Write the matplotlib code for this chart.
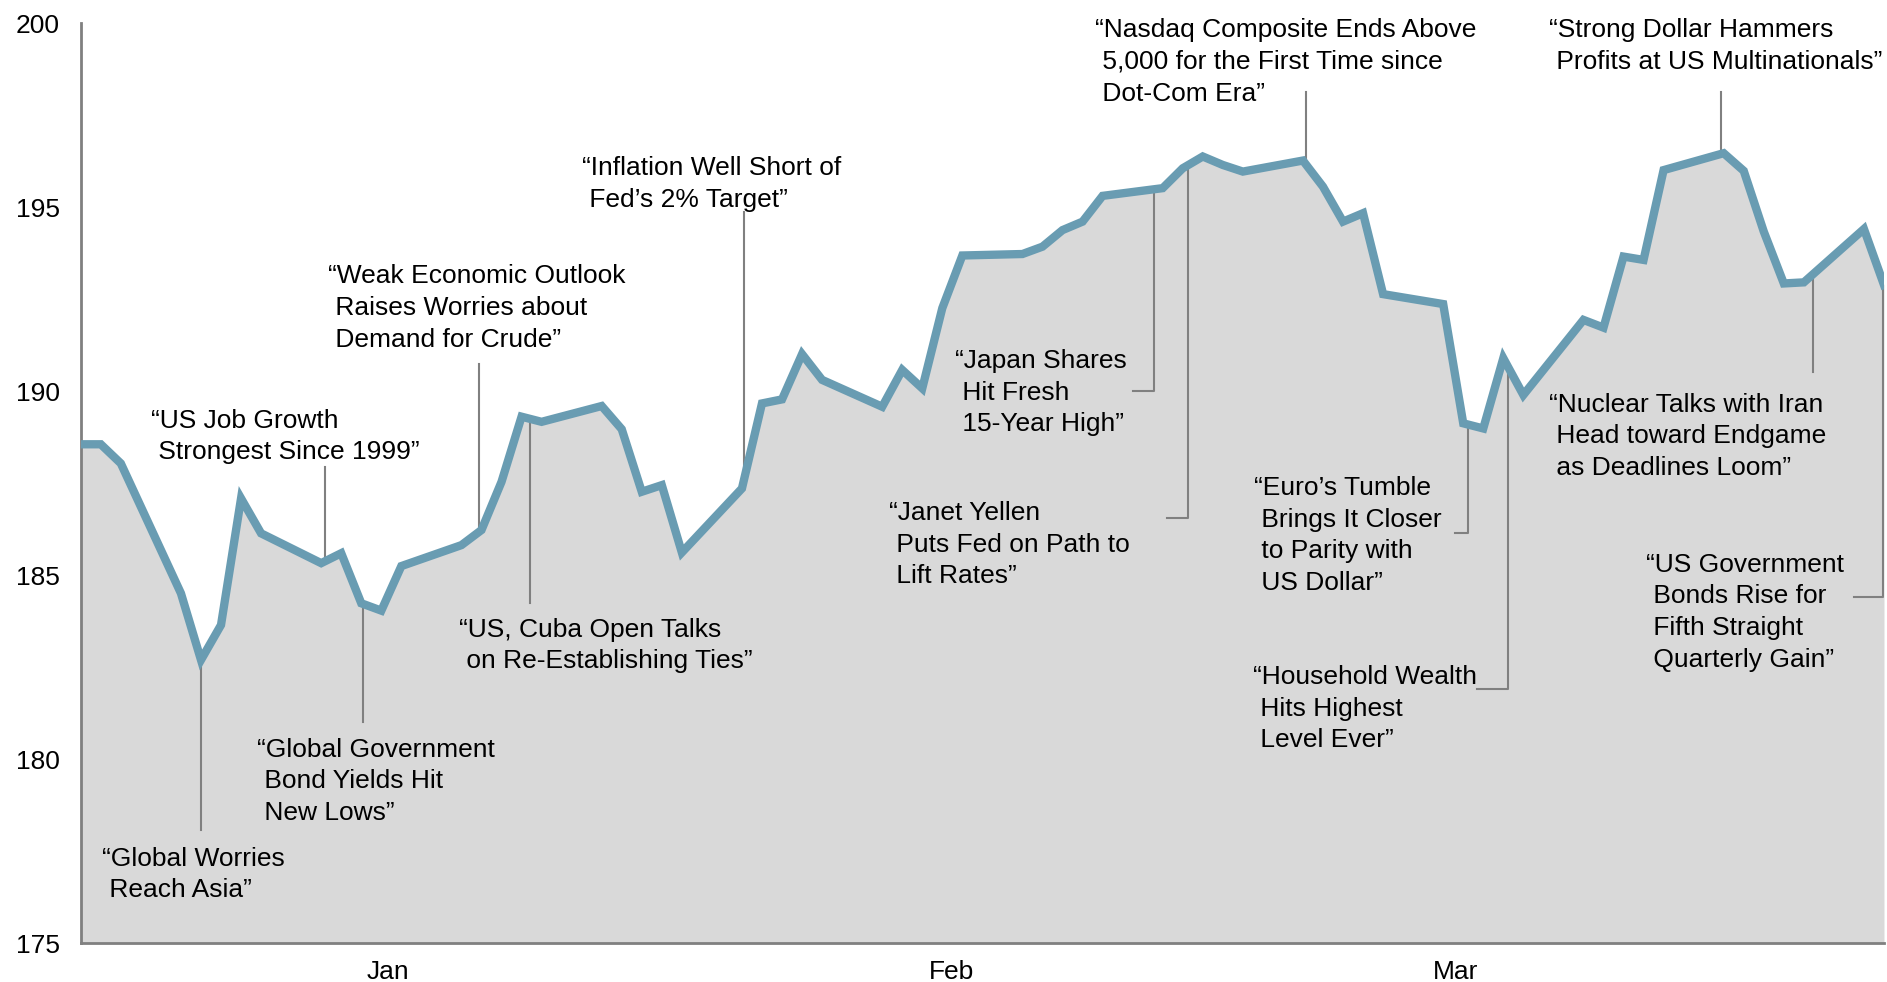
import numpy as np
import pandas as pd
import matplotlib
matplotlib.use("Agg")
import matplotlib.pyplot as plt

plt.rcParams['font.family'] = ['Liberation Sans', 'DejaVu Sans']

# weekdays from the last close of 2014 to the end of Q1 2015
dates = pd.bdate_range("2014-12-31", "2015-03-31")
values = [
    188.56,
    188.56, 188.04, 184.51, 182.70, 183.65, 187.09, 186.14, 185.33, 185.60, 184.24,
    184.04, 185.25, 185.82, 186.23, 187.54, 189.31, 189.17, 189.60, 188.97, 187.27,
    187.45, 185.62,
    187.36, 189.67, 189.78, 191.01, 190.31, 189.58, 190.58, 190.08, 192.26, 193.69,
    193.73, 193.93, 194.38, 194.61, 195.31, 195.52, 196.06, 196.38, 196.15, 195.97,
    196.27, 195.56, 194.61, 194.84, 192.64, 192.37, 189.13, 188.99, 190.90, 189.90,
    191.94, 191.73, 193.66, 193.57, 196.01, 196.47, 195.99, 194.34, 192.93, 192.96,
    194.41, 192.89,
]

tick_dates = pd.to_datetime(["2015-01-15 08:24", "2015-02-12 11:17", "2015-03-09 15:07"])
tick_labels = ["Jan", "Feb", "Mar"]

# headlines and the day each one points at
headlines = [
    "\u201cGlobal Worries\n Reach Asia\u201d",
    "\u201cUS Job Growth\n Strongest Since 1999\u201d",
    "\u201cGlobal Government\n Bond Yields Hit\n New Lows\u201d",
    "\u201cWeak Economic Outlook\n Raises Worries about\n Demand for Crude\u201d",
    "\u201cUS, Cuba Open Talks\n on Re-Establishing Ties\u201d",
    "\u201cInflation Well Short of\n Fed\u2019s 2% Target\u201d",
    "\u201cJapan Shares\n Hit Fresh\n 15-Year High\u201d",
    "\u201cJanet Yellen\n Puts Fed on Path to\n Lift Rates\u201d",
    "\u201cNasdaq Composite Ends Above\n 5,000 for the First Time since\n Dot-Com Era\u201d",
    "\u201cEuro\u2019s Tumble\n Brings It Closer\n to Parity with\n US Dollar\u201d",
    "\u201cHousehold Wealth\n Hits Highest\n Level Ever\u201d",
    "\u201cStrong Dollar Hammers\n Profits at US Multinationals\u201d",
    "\u201cNuclear Talks with Iran\n Head toward Endgame\n as Deadlines Loom\u201d",
    "\u201cUS Government\n Bonds Rise for\n Fifth Straight\n Quarterly Gain\u201d",
]
headline_dates = pd.to_datetime([
    "2015-01-06 00:00", "2015-01-12 05:00", "2015-01-14 02:00", "2015-01-19 21:00",
    "2015-01-22 10:00", "2015-02-02 03:00", "2015-02-22 14:00", "2015-02-24 06:00",
    "2015-03-02 04:00", "2015-03-10 06:00", "2015-03-12 05:30", "2015-03-22 21:00",
    "2015-03-27 11:00", "2015-03-30 23:00",
])

# layout of the leaders and labels
leader_ends = [178.08, 187.95, 181.02, 190.74, 184.24, 194.88, 190.02, 186.57,
               198.14, 186.16, 181.90, 198.14, 190.53, 184.42]
elbow_dates = [None, None, None, None, None, None, "2015-02-21 12:00", "2015-02-23 05:00",
               None, "2015-03-09 14:00", "2015-03-10 16:00", None, None, "2015-03-29 12:00"]
label_days = [1.07, 3.52, 8.82, 12.32, 18.86, 25.03, 43.62, 40.32,
              50.63, 58.55, 58.50, 73.26, 73.26, 78.13]
label_vals = [177.11, 189.01, 180.07, 192.93, 183.33, 195.88, 190.63, 186.50,
              199.62, 187.18, 182.05, 199.62, 189.45, 185.10]
line_gap = 0.861

fig = plt.figure(figsize=(18.87, 9.82), dpi=100)
ax = fig.add_axes([0.0428, 0.0394, 0.9556, 0.9369])

ax.fill_between(dates, values, 175, color="#d9d9d9", lw=0, zorder=1)
ax.plot(dates, values, color="#699cb2", lw=6, zorder=3, solid_joinstyle="miter")

xnum = (dates - dates[0]) / pd.Timedelta(days=1)
start = dates[0]
for i, text in enumerate(headlines):
    d = (headline_dates[i] - start) / pd.Timedelta(days=1)
    on_line = np.interp(d, xnum, values)
    xs = [headline_dates[i], headline_dates[i]]
    ys = [on_line, leader_ends[i]]
    if elbow_dates[i] is not None:
        xs.append(pd.Timestamp(elbow_dates[i]))
        ys.append(leader_ends[i])
    ax.plot(xs, ys, color="#808080", lw=1.5, zorder=2)
    for k, line in enumerate(text.split("\n")):
        ax.text(start + pd.Timedelta(days=label_days[i]), label_vals[i] - k * line_gap, line,
                fontsize=19, ha="left", va="baseline", zorder=4, clip_on=False)

ax.set_xlim(dates[0], dates[-1])
ax.set_ylim(175, 200)
ax.set_yticks([175, 180, 185, 190, 195, 200])
ax.set_xticks(tick_dates)
ax.set_xticklabels(tick_labels)
ax.tick_params(axis="both", length=0, labelsize=19)
ax.tick_params(axis="y", pad=15)
ax.tick_params(axis="x", pad=12)

for side in ["top", "right"]:
    ax.spines[side].set_visible(False)
for side in ["left", "bottom"]:
    ax.spines[side].set_color("#808080")
    ax.spines[side].set_linewidth(2)

fig.savefig("out.png", dpi=100)
